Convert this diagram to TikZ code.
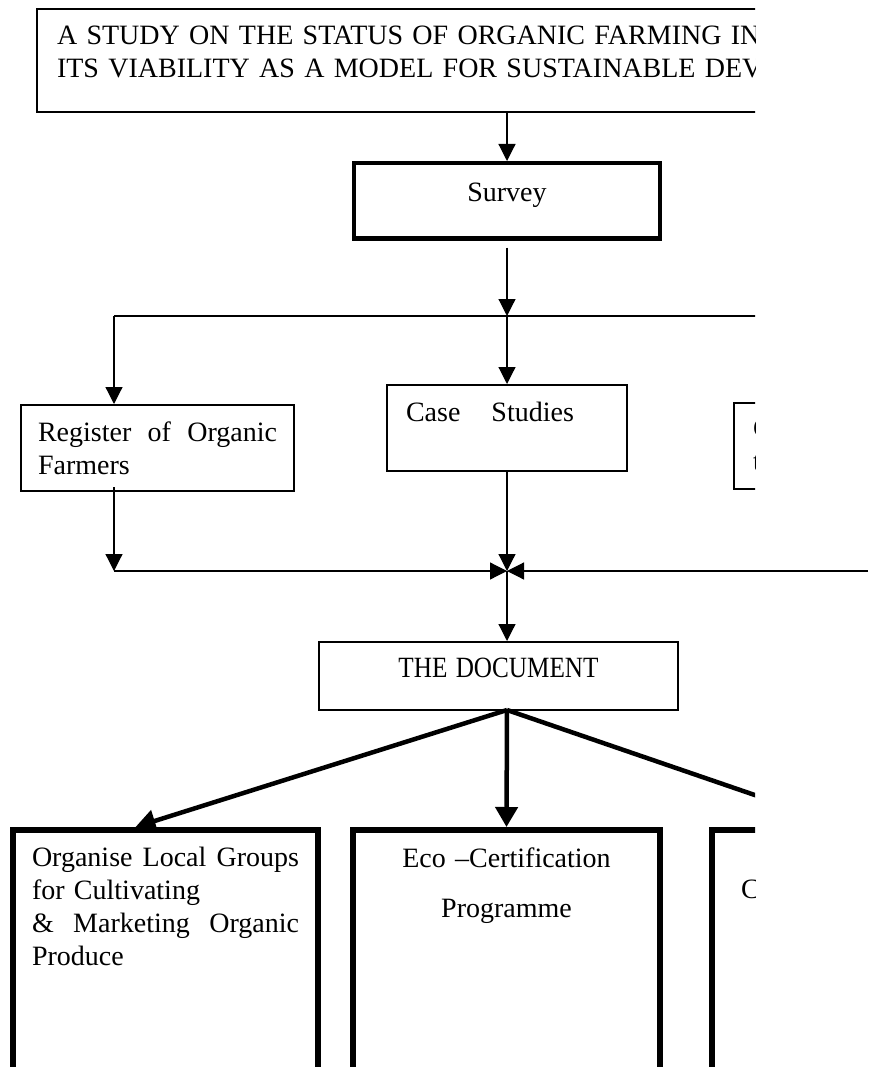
\documentclass[tikz,border=0pt]{standalone}
\usepackage{fontspec}
\setmainfont{Liberation Serif}
\usepackage{graphicx}
\usetikzlibrary{arrows.meta}
\newcommand\boxfont{\fontsize{28}{33}\selectfont}
\newcommand\fullline[2]{\leavevmode\hbox to #1{#2}}

\begin{document}
\begin{tikzpicture}[x=1pt,y=-1pt,
  box/.style={draw,line width=1.3pt,anchor=north west,inner ysep=0pt,outer sep=0pt,font=\boxfont},
  bigbox/.style={box,line width=6pt},
  arr/.style={line width=1.2pt,-{Triangle[length=17pt,width=17pt]}},
  bigarr/.style={line width=4.5pt,-{Triangle[length=20pt,width=22pt]}}]
  \useasboundingbox (0,0) rectangle (868,1067);

  \coordinate (fork) at (507,316);
  \coordinate (lfork) at (114,316);
  \coordinate (rfork) at (800,316);
  \coordinate (join) at (507,571);
  \coordinate (ljoin) at (114,571);
  \coordinate (rjoin) at (868,571);

  \begin{scope}
    \clip (0,0) rectangle (755,1067);

    \node[box,inner xsep=20pt,text width=1100pt,align=left,
      text height=36pt,text depth=67pt] at (37,9) (title)
      {A STUDY ON THE STATUS OF ORGANIC FARMING IN\\
       ITS VIABILITY AS A MODEL FOR SUSTAINABLE DEVELOPMENT};

    \node[box,line width=4.5pt,inner xsep=0pt,text width=306pt,align=center,
      text height=39pt,text depth=36.5pt] at (354,163) (survey) {Survey};

    % second row
    \node[box,inner xsep=17pt,text width=239pt,align=left,
      text height=36pt,text depth=50pt] at (21,405) (register)
      {\fullline{239pt}{Register\hfill of\hfill Organic}\\Farmers};
    \node[box,inner xsep=19pt,text width=202pt,align=left,
      text height=36pt,text depth=50pt] at (387,385) (casestudy)
      {Case\hspace{31pt}Studies};
    \node[box,inner xsep=19pt,text width=200pt,align=left,
      text height=34pt,text depth=52pt] at (734,403) (cstudy) {C\\t};

    \node[box,inner xsep=0pt,text width=359pt,align=center,
      text height=35pt,text depth=33pt] at (319,642) (document)
      {\scalebox{0.9}[1.05]{THE DOCUMENT}};

    % third row
    \node[bigbox,inner xsep=19pt,text width=267pt,align=left,
      text height=36pt,text depth=300pt] at (13,830) (organise)
      {\fullline{267pt}{Organise\hfill Local\hfill Groups}\\
       for Cultivating\\
       \fullline{267pt}{\&\hfill Marketing\hfill Organic}\\
       Produce};
    \node[bigbox,inner xsep=0pt,text width=307pt,align=center,
      text height=37pt,text depth=300pt] at (353,830) (eco)
      {Eco –Certification\\[17pt]Programme};
    \node[bigbox,inner xsep=29pt,text width=200pt,align=left,
      text height=68pt,text depth=268pt] at (712,830) (cgroup) {C};

    \draw[arr] (title.south -| fork) -- ([yshift=2pt]survey.north);
    \draw[arr] ([yshift=-9pt]survey.south) -- (fork);
    \draw[line width=1.2pt] (lfork) -- (rfork);
    \draw[arr] (lfork) -- ([yshift=1pt]lfork |- register.north);
    \draw[arr] (fork) -- ([yshift=1pt]casestudy.north);

    \draw[arr] ([yshift=4pt]register.south -| ljoin) -- (ljoin);
    \draw[arr] (casestudy.south) -- (join);
    \draw[arr] (ljoin) -- (join);
    \draw[arr] (join) -- ([yshift=1pt]join |- document.north);

    \draw[bigarr] (document.south -| join) -- ([xshift=-30pt,yshift=3pt]organise.north);
    \draw[bigarr] (document.south -| join) -- ([yshift=3pt]eco.north);
    \draw[bigarr] (document.south -| join) -- ([xshift=136pt,yshift=3pt]cgroup.north west);
  \end{scope}

  \draw[arr] (rjoin) -- (join);
\end{tikzpicture}
\end{document}
